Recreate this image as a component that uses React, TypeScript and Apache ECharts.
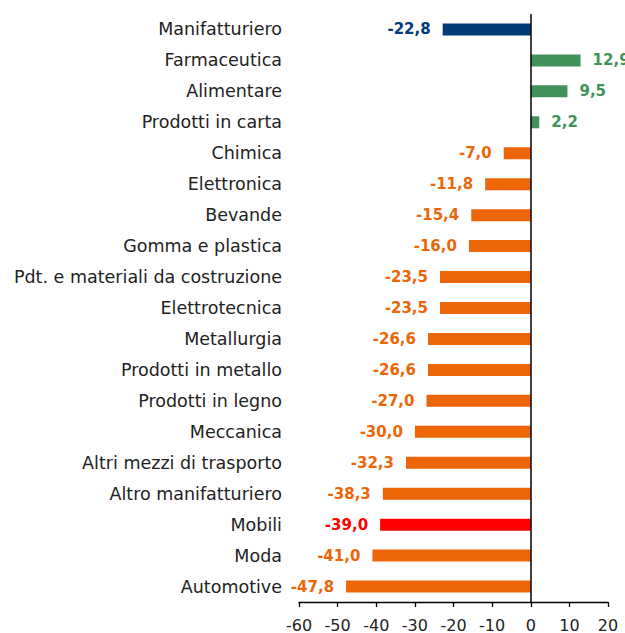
import React, { useEffect, useRef } from "react";
import * as echarts from "echarts";

const categories = [
  "Manifatturiero",
  "Farmaceutica",
  "Alimentare",
  "Prodotti in carta",
  "Chimica",
  "Elettronica",
  "Bevande",
  "Gomma e plastica",
  "Pdt. e materiali da costruzione",
  "Elettrotecnica",
  "Metallurgia",
  "Prodotti in metallo",
  "Prodotti in legno",
  "Meccanica",
  "Altri mezzi di trasporto",
  "Altro manifatturiero",
  "Mobili",
  "Moda",
  "Automotive",
];
const values = [
  -22.8, 12.9, 9.5, 2.2, -7.0, -11.8, -15.4, -16.0, -23.5, -23.5, -26.6, -26.6,
  -27.0, -30.0, -32.3, -38.3, -39.0, -41.0, -47.8,
];
const barColors = [
  "#003A78", "#41925A", "#41925A", "#41925A",
  "#EC6608", "#EC6608", "#EC6608", "#EC6608", "#EC6608", "#EC6608", "#EC6608",
  "#EC6608", "#EC6608", "#EC6608", "#EC6608", "#EC6608", "#FF0000", "#EC6608", "#EC6608",
];
const xMin = -60;
const xMax = 20;
const xStep = 10;

const FONT = "DejaVu Sans";

export default function App() {
  const ref = useRef<HTMLDivElement>(null);
  useEffect(() => {
    if (!ref.current) return;
    const chart = echarts.init(ref.current, undefined, { renderer: "svg" });
    const data = values.map((v, i) => ({
      value: v,
      itemStyle: { color: barColors[i] },
      label: {
        position: v < 0 ? "left" : "right",
        color: barColors[i],
      },
    }));
    chart.setOption({
      animation: false,
      grid: { left: 299, right: 17, top: 14, bottom: 30, containLabel: false },
      xAxis: {
        type: "value",
        min: xMin,
        max: xMax,
        interval: xStep,
        axisLine: { show: true, onZero: false, lineStyle: { color: "#000", width: 1.3 } },
        axisTick: { show: true, inside: false, length: 5, lineStyle: { color: "#000", width: 1.3 } },
        splitLine: { show: false },
        axisLabel: { color: "#222", fontFamily: FONT, fontSize: 16, margin: 15 },
      },
      yAxis: {
        type: "category",
        data: categories,
        inverse: true,
        axisLine: { show: false },
        axisTick: { show: false },
        axisLabel: { color: "#222", fontFamily: FONT, fontSize: 17.5, margin: 17 },
      },
      series: [
        {
          type: "bar",
          data,
          barWidth: 12,
          label: {
            show: true,
            distance: 12,
            fontFamily: FONT,
            fontSize: 15,
            fontWeight: "bold",
            formatter: (p: any) => p.value.toFixed(1).replace(".", ","),
          },
          markLine: {
            silent: true,
            symbol: ["none", "none"],
            label: { show: false },
            lineStyle: { color: "#000", width: 1.5, type: "solid" },
            data: [{ xAxis: 0 }],
          },
        },
      ],
    });
    return () => chart.dispose();
  }, []);
  return (
    <div
      ref={ref}
      style={{ position: "fixed", left: 0, top: 0, width: 625, height: 633, background: "#fff" }}
    />
  );
}
